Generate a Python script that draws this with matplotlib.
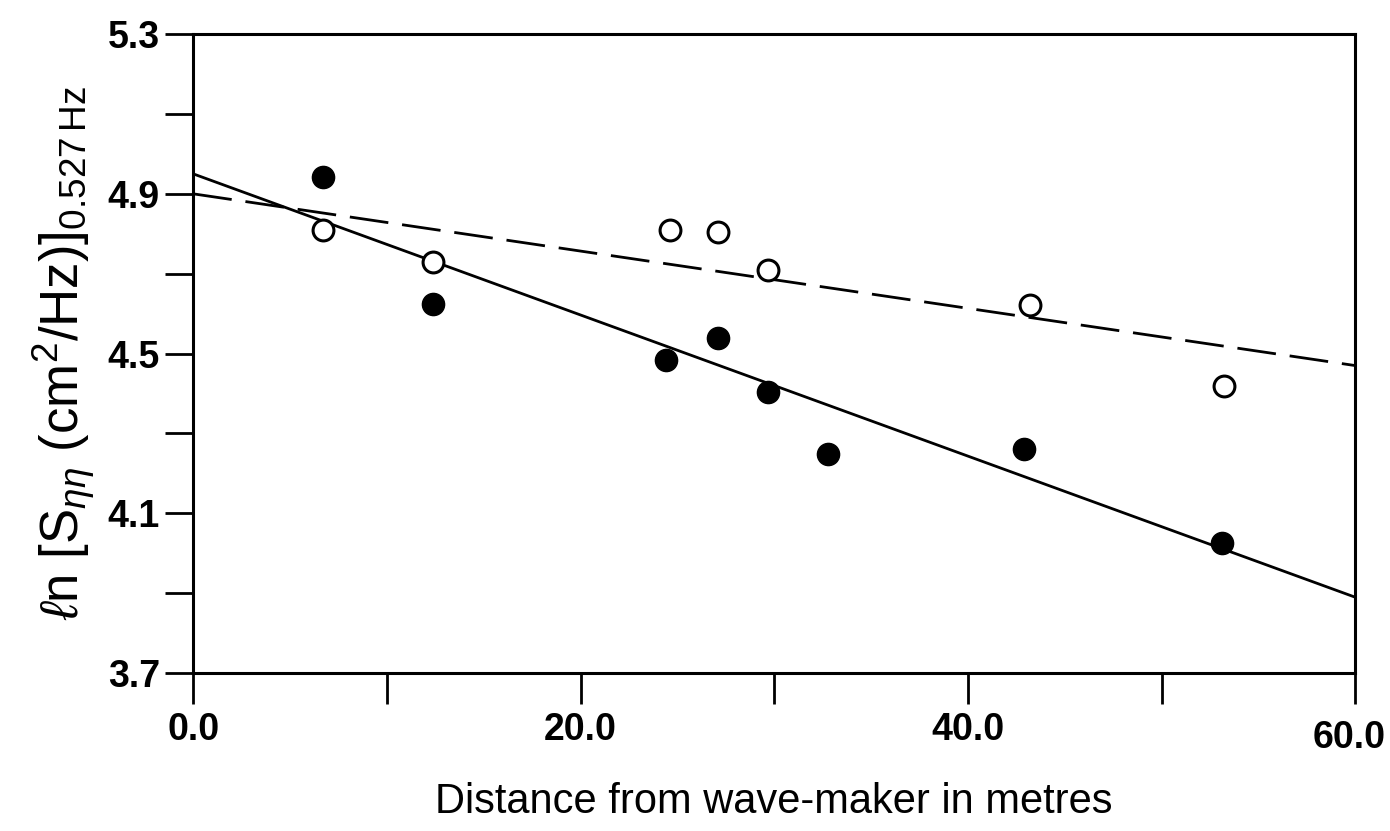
import matplotlib
matplotlib.use("Agg")
import matplotlib.pyplot as plt
import matplotlib.transforms as mtransforms
import numpy as np

plt.rcParams["font.family"] = ["Liberation Sans", "DejaVu Sans"]
plt.rcParams["mathtext.fontset"] = "custom"
plt.rcParams["mathtext.rm"] = "Liberation Sans"
plt.rcParams["mathtext.it"] = "Liberation Sans:italic"

# Filled circles
filled_x = [6.7, 12.4, 24.4, 27.1, 29.7, 32.8, 42.9, 53.1]
filled_y = [4.943, 4.623, 4.484, 4.539, 4.403, 4.249, 4.260, 4.027]

# Open circles
open_x = [6.7, 12.4, 24.6, 27.1, 29.7, 43.2, 53.2]
open_y = [4.809, 4.729, 4.809, 4.804, 4.710, 4.621, 4.420]

# Fitted lines (value at x=0 and x=60)
line_x = [0.0, 60.0]
solid_y = [4.95, 3.89]
dashed_y = [4.90, 4.47]

fig = plt.figure(figsize=(13.9, 8.31), dpi=100)
ax = fig.add_axes([0.139, 0.19, 0.836, 0.769])

ax.plot(line_x, solid_y, color="black", lw=2.0, zorder=2)
ax.plot(line_x, dashed_y, color="black", lw=2.0, dashes=(14, 5), zorder=2)
ax.plot(filled_x, filled_y, "o", color="black", ms=16, zorder=3)
ax.plot(open_x, open_y, "o", mfc="white", mec="black", mew=2.2, ms=15, zorder=3)

ax.set_xlim(0, 60)
ax.set_ylim(3.7, 5.3)
ax.set_xticks(np.arange(0, 61, 10))
ax.set_xticklabels(["0.0", "", "20.0", "", "40.0", "", "60.0"])
ax.set_yticks(np.arange(3.7, 5.31, 0.2))
ax.set_yticklabels(["3.7", "", "4.1", "", "4.5", "", "4.9", "", "5.3"])
ax.tick_params(axis="x", direction="out", length=22, width=2, labelsize=27, pad=6)
ax.tick_params(axis="y", direction="out", length=20, width=2, labelsize=27, pad=4)
for lab in ax.get_xticklabels() + ax.get_yticklabels():
    lab.set_fontweight("bold")
# keep the last x label inside the figure
last = ax.get_xticklabels()[-1]
last.set_transform(last.get_transform() +
                   mtransforms.ScaledTranslation(-6 / 100, -8 / 100, fig.dpi_scale_trans))
for s in ax.spines.values():
    s.set_linewidth(2.2)

ax.set_xlabel("Distance from wave-maker in metres", fontsize=30, labelpad=19)
ax.set_ylabel(r"$\ell$n [S$_{\eta\eta}$ (cm$^2$/Hz)]$_{0.527\,\mathrm{Hz}}$",
              fontsize=38, labelpad=8)

fig.savefig("out.png", dpi=100)
